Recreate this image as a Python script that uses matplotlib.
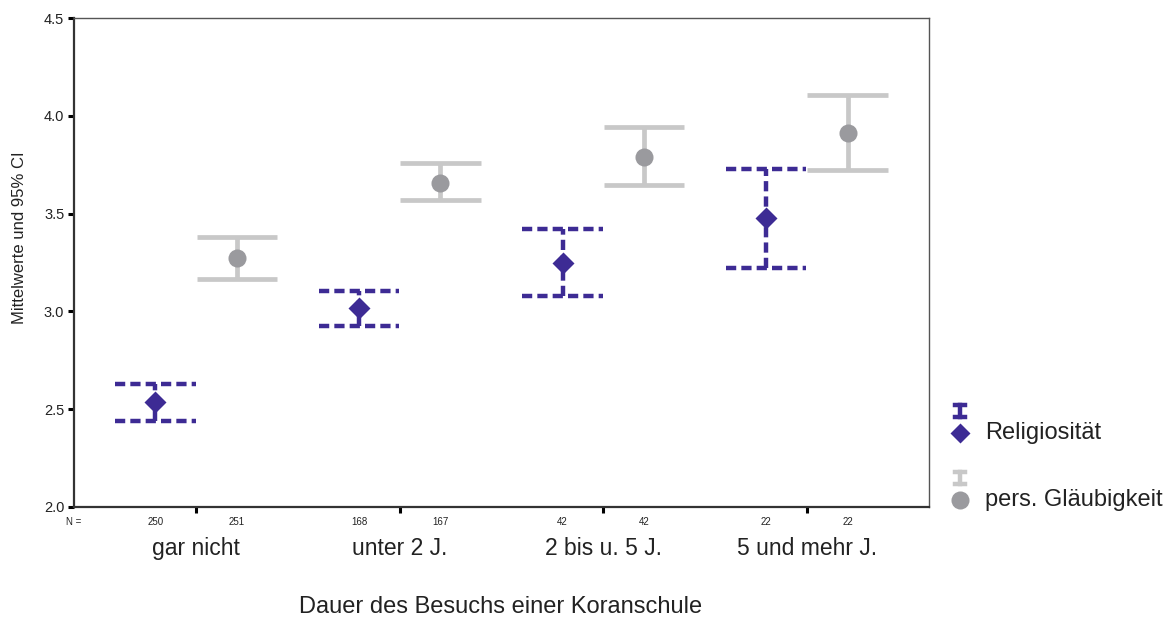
import matplotlib.pyplot as plt
from matplotlib.lines import Line2D

plt.rcParams['font.family'] = ['Liberation Sans', 'DejaVu Sans']

categories = ['gar nicht', 'unter 2 J.', '2 bis u. 5 J.', '5 und mehr J.']

# Religiositaet: mean, lower CI, upper CI, N
rel_mean = [2.537, 3.017, 3.250, 3.478]
rel_low = [2.440, 2.925, 3.080, 3.222]
rel_high = [2.629, 3.104, 3.420, 3.728]
rel_n = [250, 168, 42, 22]

# pers. Glaeubigkeit
gl_mean = [3.273, 3.656, 3.789, 3.912]
gl_low = [3.166, 3.570, 3.646, 3.723]
gl_high = [3.380, 3.759, 3.943, 4.106]
gl_n = [251, 167, 42, 22]

PURPLE = '#3d2b94'
LGRAY = '#c8c8c8'
DGRAY = '#9a9a9e'
TXT = '#222222'

W, H = 1172, 618
fig = plt.figure(figsize=(W / 100, H / 100), dpi=100)
ax = fig.add_axes([74 / W, 1 - 507 / H, (929 - 74) / W, (507 - 18) / H])

pos = [1, 2, 3, 4]
off = 0.2
half = 0.197
dash = (0, (2.3, 1.15))

xr = [p - off for p in pos]
xg = [p + off for p in pos]

# pers. Glaeubigkeit (solid light gray)
ax.vlines(xg, gl_low, gl_high, color=LGRAY, lw=3.4, zorder=2)
ax.hlines(gl_low, [x - half for x in xg], [x + half for x in xg], color=LGRAY, lw=3.4, zorder=2)
ax.hlines(gl_high, [x - half for x in xg], [x + half for x in xg], color=LGRAY, lw=3.4, zorder=2)
ax.plot(xg, gl_mean, 'o', color=DGRAY, ms=13, mec='none', zorder=3)

# Religiositaet (dashed purple)
ax.vlines(xr, rel_low, rel_high, color=PURPLE, lw=3.2, linestyles=[dash], zorder=4)
ax.hlines(rel_low, [x - half for x in xr], [x + half for x in xr], color=PURPLE, lw=3.2,
          linestyles=[dash], zorder=4)
ax.hlines(rel_high, [x - half for x in xr], [x + half for x in xr], color=PURPLE, lw=3.2,
          linestyles=[dash], zorder=4)
ax.plot(xr, rel_mean, 'D', color=PURPLE, ms=11, mec='none', zorder=5)

ax.set_xlim(0.4, 4.6)
ax.set_ylim(2.0, 4.5)
ax.set_yticks([2.0, 2.5, 3.0, 3.5, 4.0, 4.5])
ax.set_yticklabels(['2.0', '2.5', '3.0', '3.5', '4.0', '4.5'])
ax.set_xticks(pos)
ax.set_xticklabels([])
ax.tick_params(axis='y', length=4, width=2.2, pad=3, labelsize=10.5, labelcolor=TXT)
ax.tick_params(axis='x', length=4, width=2.2, pad=2)

for s in ['left', 'bottom']:
    ax.spines[s].set_linewidth(1.6)
    ax.spines[s].set_color('#333333')
for s in ['top', 'right']:
    ax.spines[s].set_linewidth(1.0)
    ax.spines[s].set_color('#555555')

ax.set_ylabel('Mittelwerte und 95% CI', fontsize=12, color=TXT)
ax.yaxis.set_label_coords(-0.055, 0.55)

# category labels, N counts
tr = ax.get_xaxis_transform()
ax.text(0.4, -0.03, 'N =', transform=tr, ha='center', va='center', fontsize=7, color=TXT)
for i, p in enumerate(pos):
    ax.text(xr[i], -0.03, str(rel_n[i]), transform=tr, ha='center', va='center',
            fontsize=7, color=TXT)
    ax.text(xg[i], -0.03, str(gl_n[i]), transform=tr, ha='center', va='center',
            fontsize=7, color=TXT)
    ax.text(p, -0.085, categories[i], transform=tr, ha='center', va='center',
            fontsize=16.5, color=TXT)

fig.text(501 / W, 1 - 607 / H, 'Dauer des Besuchs einer Koranschule', ha='center',
         va='center', fontsize=17, color=TXT)


# legend drawn by hand
def fx(x):
    return x / W


def fy(y):
    return 1 - y / H


def legend_entry(y_icon, y_mark, color, mcolor, marker, ms, label):
    fig.add_artist(Line2D([fx(960), fx(960)], [fy(y_icon - 6), fy(y_icon + 6)],
                          transform=fig.transFigure, color=color, lw=3.2))
    for yy in (y_icon - 6, y_icon + 6):
        fig.add_artist(Line2D([fx(955), fx(965)], [fy(yy), fy(yy)],
                              transform=fig.transFigure, color=color, lw=3.2))
    fig.add_artist(Line2D([fx(960)], [fy(y_mark)], transform=fig.transFigure,
                          marker=marker, color=mcolor, ms=ms, mec='none', ls='none'))
    fig.text(fx(985), fy(y_mark), label, ha='left', va='center', fontsize=17, color=TXT)


legend_entry(411, 433, PURPLE, PURPLE, 'D', 10, 'Religiosität')
legend_entry(478, 500, LGRAY, DGRAY, 'o', 13, 'pers. Gläubigkeit')

fig.savefig('out.png', dpi=100)
